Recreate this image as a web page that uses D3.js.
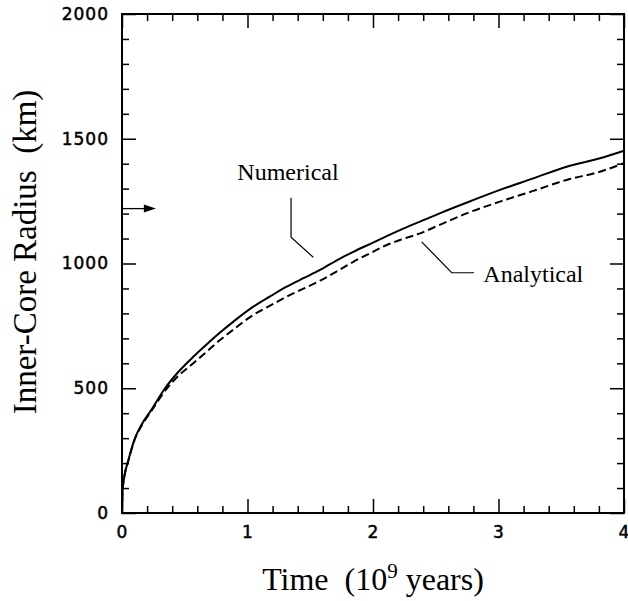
<!DOCTYPE html>
<html>
<head>
	<meta charset="utf-8">
	<script type="text/javascript" src="https://cdn.jsdelivr.net/npm/d3@7/dist/d3.min.js"></script>
	<title>Inner-Core Radius</title>
	<style type="text/css">
		body { margin: 0; background: #fff; }
		.tick text { font-family: "DejaVu Sans", sans-serif; font-size: 17px; letter-spacing: 1px; fill: #000; stroke: #000; stroke-width: 0.5px; }
		.tick line { stroke: #000; stroke-width: 1.5; }
		.serif { font-family: "Liberation Serif", "Times New Roman", serif; fill: #000; }
	</style>
</head>
<body>
	<script>
		// values (time in 10^9 years, radius in km)
		var timeNum = [0, 0.005, 0.02, 0.05, 0.1, 0.157, 0.233, 0.343, 0.45, 0.568, 0.68, 0.781, 0.9, 1.046, 1.18, 1.312, 1.45, 1.578, 1.737, 1.843, 2.0, 2.109, 2.215, 2.375, 2.55, 2.746, 3.012, 3.277, 3.543, 3.809, 4.0];
		var radiusNum = [0, 90, 150, 210, 295, 355, 413, 500, 566, 626, 678, 723, 772, 827, 868, 907, 942, 974, 1020, 1047, 1084, 1110, 1134, 1168, 1205, 1244, 1295, 1341, 1388, 1422, 1452];

		var timeAna = [0, 0.005, 0.02, 0.05, 0.1, 0.157, 0.233, 0.343, 0.45, 0.568, 0.68, 0.781, 0.9, 1.046, 1.18, 1.312, 1.45, 1.578, 1.737, 1.843, 2.0, 2.109, 2.215, 2.375, 2.55, 2.746, 3.012, 3.277, 3.543, 3.809, 4.0];
		var radiusAna = [0, 90, 150, 208, 293, 351, 408, 490, 550, 600, 649, 693, 740, 794, 831, 867, 900, 931, 976, 1007, 1047, 1074, 1094, 1121, 1159, 1201, 1248, 1291, 1335, 1368, 1402];

		var xMajorTicks = [0, 1, 2, 3, 4];
		var yMajorTicks = [0, 500, 1000, 1500, 2000];

		// present-day inner core radius marker and label leaders
		var presentRadius = 1220;
		var arrowEnd = 0.27;
		var numLabel = { text: 'Numerical', t: 0.919, r: 1335 };
		var anaLabel = { text: 'Analytical', t: 2.879, r: 927 };
		var numLeader = [[1.347, 1264], [1.347, 1105], [1.524, 1025]];
		var anaLeader = [[2.388, 1087], [2.627, 963], [2.805, 963]];

		var svgWidth = 628;
		var svgHeight = 601;
		var margin = { top: 14, right: 4, bottom: 88, left: 122 };
		var w = svgWidth - margin.left - margin.right;
		var h = svgHeight - margin.top - margin.bottom;

		var svg = d3.select('body')
				.append('svg')
				.attr('width', svgWidth)
				.attr('height', svgHeight);

		var g = svg.append('g')
				.attr('transform', 'translate(' + margin.left + ',' + margin.top + ')');

		var xScale = d3.scaleLinear().domain([0, 4]).range([0, w]);
		var yScale = d3.scaleLinear().domain([0, 2000]).range([h, 0]);

		var xMinor = d3.range(0, 4.001, 0.2).filter(function (d) { return Math.abs(d - Math.round(d)) > 0.01; });
		var yMinor = d3.range(0, 2001, 100).filter(function (d) { return d % 500 != 0; });

		function addAxis(axis, tx, ty) {
			var a = g.append('g')
				.attr('transform', 'translate(' + tx + ',' + ty + ')')
				.call(axis);
			a.select('.domain').remove();
			return a;
		}

		// bottom + left with labels, ticks point inward
		addAxis(d3.axisBottom(xScale).tickValues(xMajorTicks).tickSizeInner(-14).tickSizeOuter(0).tickPadding(13).tickFormat(d3.format('d')), 0, h);
		addAxis(d3.axisBottom(xScale).tickValues(xMinor).tickSizeInner(-7).tickSizeOuter(0).tickFormat(''), 0, h);
		addAxis(d3.axisLeft(yScale).tickValues(yMajorTicks).tickSizeInner(-14).tickSizeOuter(0).tickPadding(13).tickFormat(d3.format('d')), 0, 0);
		addAxis(d3.axisLeft(yScale).tickValues(yMinor).tickSizeInner(-7).tickSizeOuter(0).tickFormat(''), 0, 0);

		// top + right, ticks only
		addAxis(d3.axisTop(xScale).tickValues(xMajorTicks).tickSizeInner(-14).tickSizeOuter(0).tickFormat(''), 0, 0);
		addAxis(d3.axisTop(xScale).tickValues(xMinor).tickSizeInner(-7).tickSizeOuter(0).tickFormat(''), 0, 0);
		addAxis(d3.axisRight(yScale).tickValues(yMajorTicks).tickSizeInner(-14).tickSizeOuter(0).tickFormat(''), w, 0);
		addAxis(d3.axisRight(yScale).tickValues(yMinor).tickSizeInner(-7).tickSizeOuter(0).tickFormat(''), w, 0);

		g.append('rect')
			.attr('x', 0).attr('y', 0)
			.attr('width', w).attr('height', h)
			.attr('fill', 'none')
			.attr('stroke', '#000')
			.attr('stroke-width', 2);

		var line = d3.line()
			.x(function (d) { return xScale(d[0]); })
			.y(function (d) { return yScale(d[1]); })
			.curve(d3.curveMonotoneX);

		g.append('path')
			.datum(d3.zip(timeNum, radiusNum))
			.attr('d', line)
			.attr('fill', 'none')
			.attr('stroke', '#000')
			.attr('stroke-width', 2);

		g.append('path')
			.datum(d3.zip(timeAna, radiusAna))
			.attr('d', line)
			.attr('fill', 'none')
			.attr('stroke', '#000')
			.attr('stroke-width', 2)
			.attr('stroke-dasharray', '8,4');

		// leader lines
		var leader = d3.line()
			.x(function (d) { return xScale(d[0]); })
			.y(function (d) { return yScale(d[1]); });

		[numLeader, anaLeader].forEach(function (pts) {
			g.append('path')
				.attr('d', leader(pts))
				.attr('fill', 'none')
				.attr('stroke', '#000')
				.attr('stroke-width', 1.2);
		});

		[numLabel, anaLabel].forEach(function (d) {
			g.append('text')
				.attr('class', 'serif')
				.attr('x', xScale(d.t))
				.attr('y', yScale(d.r))
				.style('font-size', '24px')
				.text(d.text);
		});

		// arrow at present radius
		var ay = yScale(presentRadius);
		var ax = xScale(arrowEnd);
		g.append('line')
			.attr('x1', xScale(0)).attr('x2', ax - 8)
			.attr('y1', ay).attr('y2', ay)
			.attr('stroke', '#000')
			.attr('stroke-width', 1.3);
		g.append('path')
			.attr('d', 'M' + ax + ',' + ay + 'L' + (ax - 12) + ',' + (ay - 4) + 'L' + (ax - 12) + ',' + (ay + 4) + 'Z')
			.attr('fill', '#000');

		// axis titles
		var xt = svg.append('text')
			.attr('class', 'serif')
			.attr('x', margin.left + w / 2)
			.attr('y', 590)
			.attr('text-anchor', 'middle')
			.style('font-size', '32px')
			.style('white-space', 'pre');
		xt.append('tspan').text('Time  (10');
		xt.append('tspan').attr('dy', -12).style('font-size', '21px').text('9');
		xt.append('tspan').attr('dy', 12).text(' years)');

		svg.append('text')
			.attr('class', 'serif')
			.attr('transform', 'translate(36,252) rotate(-90)')
			.attr('text-anchor', 'middle')
			.style('font-size', '33px')
			.style('white-space', 'pre')
			.text('Inner-Core Radius  (km)');
	</script>
</body>
</html>
